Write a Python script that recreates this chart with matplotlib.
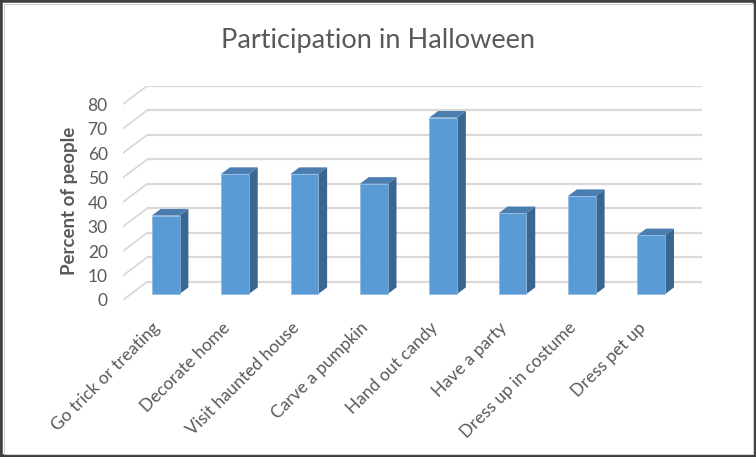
import matplotlib.pyplot as plt
from matplotlib.patches import Rectangle
import numpy as np

plt.rcParams['font.family'] = ['Lato', 'DejaVu Sans']

# данные
categories = ['Go trick or treating', 'Decorate home', 'Visit haunted house',
              'Carve a pumpkin', 'Hand out candy', 'Have a party',
              'Dress up in costume', 'Dress pet up']
percent = [32, 49, 49, 45, 72, 33, 40, 24]
y_ticks = [0, 10, 20, 30, 40, 50, 60, 70, 80]

# псевдо-3D параметры (в единицах данных)
DX, DY = 0.346, 7.35     # глубина стенки
d0, d1 = 0.333, 0.70     # передняя и задняя грань столбика
w = 0.40

front_c = '#5B9BD5'
side_c = '#3B6690'
top_c = '#4A7DB0'
grid_c = '#D9D9D9'
text_c = '#595959'

W, H = 756, 457
fig = plt.figure(figsize=(W / 100, H / 100), dpi=100)
ax = fig.add_axes([123 / W, 1 - 300 / H, (702 - 123) / W, (300 - 86) / H])
ax.set_xlim(-0.5, 7.5 + DX)
ax.set_ylim(0, 80 + DY)

# сетка: задняя стенка и боковая стенка
for v in y_ticks:
    ax.plot([-0.5 + DX, 7.5 + DX], [v + DY, v + DY], color=grid_c, lw=1.6, zorder=1,
            solid_capstyle='butt')
    ax.plot([-0.5, -0.5 + DX], [v, v + DY], color=grid_c, lw=1.3, zorder=1)

# столбики
x = np.arange(len(categories))
xf = x + d0 * DX
base = d0 * DY
for xi, v in zip(xf, percent):
    l, r = xi - w / 2, xi + w / 2
    ddx, ddy = (d1 - d0) * DX, (d1 - d0) * DY
    ax.fill([r, r + ddx, r + ddx, r], [base, base + ddy, base + v + ddy, base + v],
            color=side_c, zorder=2, lw=0)
    ax.fill([l, r, r + ddx, l + ddx], [base + v, base + v, base + v + ddy, base + v + ddy],
            color=top_c, zorder=2, lw=0)
ax.bar(xf, percent, width=w, bottom=base, color=front_c, edgecolor='#8DB8E2',
       linewidth=0.5, zorder=3)

for s in ax.spines.values():
    s.set_visible(False)
ax.set_yticks(y_ticks)
ax.set_yticklabels([str(t) for t in y_ticks], fontsize=12.5, color=text_c)
ax.tick_params(axis='y', length=0, pad=11)
ax.set_xticks(x - 0.08)
ax.set_xticklabels(categories, rotation=45, ha='right', va='top',
                   rotation_mode='anchor', fontsize=12.5, color=text_c)
ax.tick_params(axis='x', length=0, pad=14)

fig.text(378 / W, 1 - 48 / H, 'Participation in Halloween', ha='center',
         va='baseline', fontsize=19.5, color=text_c)
fig.text(69 / W, 1 - 201 / H, 'Percent of people', rotation=90, ha='center',
         va='center', fontsize=13.5, fontweight='bold', color=text_c)

# рамка
fig.patches.append(Rectangle((0, 0), 1, 1, transform=fig.transFigure, fill=False,
                             edgecolor='#404040', lw=4))
fig.patches.append(Rectangle((3.5 / W, 3.5 / H), 1 - 7 / W, 1 - 7 / H,
                             transform=fig.transFigure, fill=False,
                             edgecolor='#D0D0D0', lw=0.8))

fig.savefig('out.png', dpi=100)
